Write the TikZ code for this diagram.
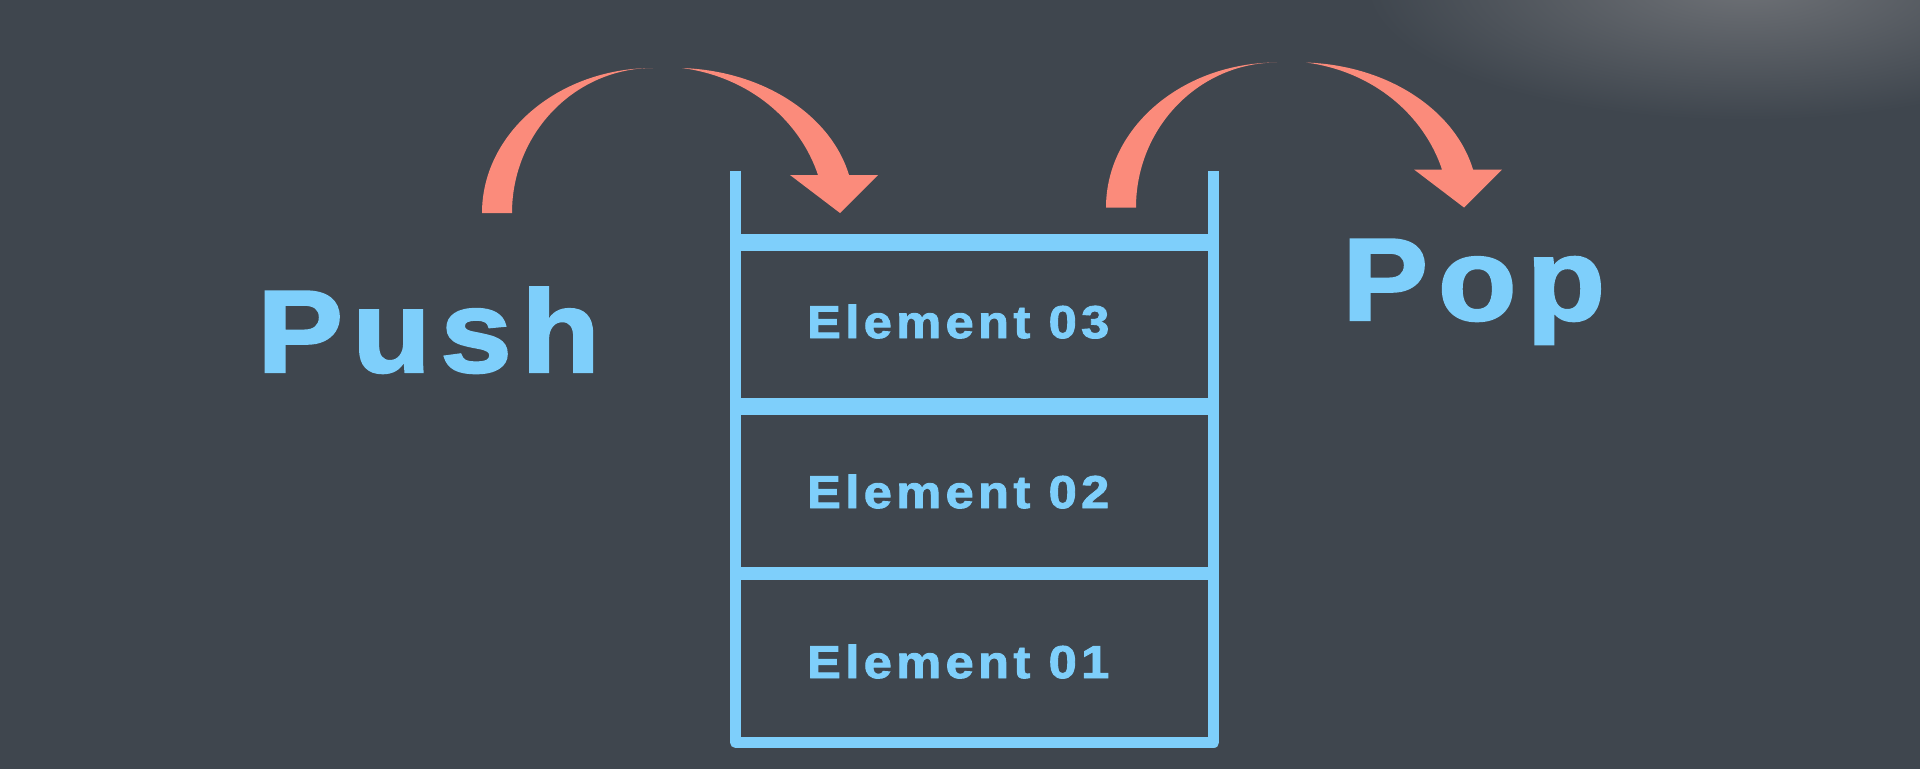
\documentclass[tikz,border=0pt]{standalone}
\usepackage{fontspec}
\setmainfont{Liberation Sans}
\definecolor{bg}{RGB}{63,70,78}
\definecolor{glowc}{RGB}{110,113,118}
\definecolor{skyb}{RGB}{126,207,251}
\definecolor{salmon}{RGB}{251,139,123}
\tikzset{
  wall/.style={draw=skyb, line width=11pt, line join=round},
  shelf/.style={draw=skyb, line cap=butt},
  bigtxt/.style={text=skyb, inner sep=0pt, anchor=base west,
    font=\fontsize{117}{117}\selectfont\bfseries\addfontfeature{LetterSpace=8,FakeStretch=1.1,FakeBold=2}},
  poptxt/.style={bigtxt,
    font=\fontsize{117}{117}\selectfont\bfseries\addfontfeature{LetterSpace=8.5,FakeStretch=1.1,FakeBold=2}},
  eltxt/.style={text=skyb, inner sep=0pt, anchor=base west,
    font=\fontsize{46}{46}\selectfont\bfseries\addfontfeature{LetterSpace=9.5,FakeStretch=1.1,FakeBold=2}},
  bendarrow/.pic={
    \fill[salmon] (0,0) .. controls (0,-80) and (76.6,-145) .. (171,-145)
      .. controls (93.1,-145) and (30,-80) .. (30,0) -- cycle;
    \fill[salmon] (200,-145) .. controls (285,-142) and (350,-95) .. (367,-38)
      -- (396,-38) -- (358,0) -- (308,-38) -- (336,-38)
      .. controls (318,-92) and (268,-136) .. (200,-145) -- cycle;
  }
}
\begin{document}
\begin{tikzpicture}[x=1pt,y=-1pt]
\useasboundingbox (0,0) rectangle (1920,769);
\fill[bg] (0,0) rectangle (1920,769);
\begin{scope}
  \clip (0,0) rectangle (1920,769);
  \shade[inner color=glowc, outer color=bg] (1745,-15) ellipse [x radius=380, y radius=135];
\end{scope}
% stack
\coordinate (tl) at (735.6,170.7);
\coordinate (bl) at (735.6,742.5);
\coordinate (br) at (1213.7,742.5);
\coordinate (tr) at (1213.7,170.7);
\draw[wall] (tl) -- (bl) -- (br) -- (tr);
\coordinate (s1l) at (741,242.5);  \coordinate (s1r) at (1208,242.5);
\coordinate (s2l) at (741,406.5);  \coordinate (s2r) at (1208,406.5);
\coordinate (s3l) at (741,573.5);  \coordinate (s3r) at (1208,573.5);
\draw[shelf, line width=17pt] (s1l) -- (s1r);
\draw[shelf, line width=17pt] (s2l) -- (s2r);
\draw[shelf, line width=13pt] (s3l) -- (s3r);
% texts
\node[eltxt] (e3) at (807,338) {Element 03};
\node[eltxt] (e2) at (807,508) {Element 02};
\node[eltxt] (e1) at (807,678) {Element 01};
\node[bigtxt] (push) at (257,372) {Push};
\node[poptxt] (pop) at (1342,320) {Pop};
% arrows
\pic at (482,213) {bendarrow};
\pic at (1106,207.5) {bendarrow};
\end{tikzpicture}
\end{document}
